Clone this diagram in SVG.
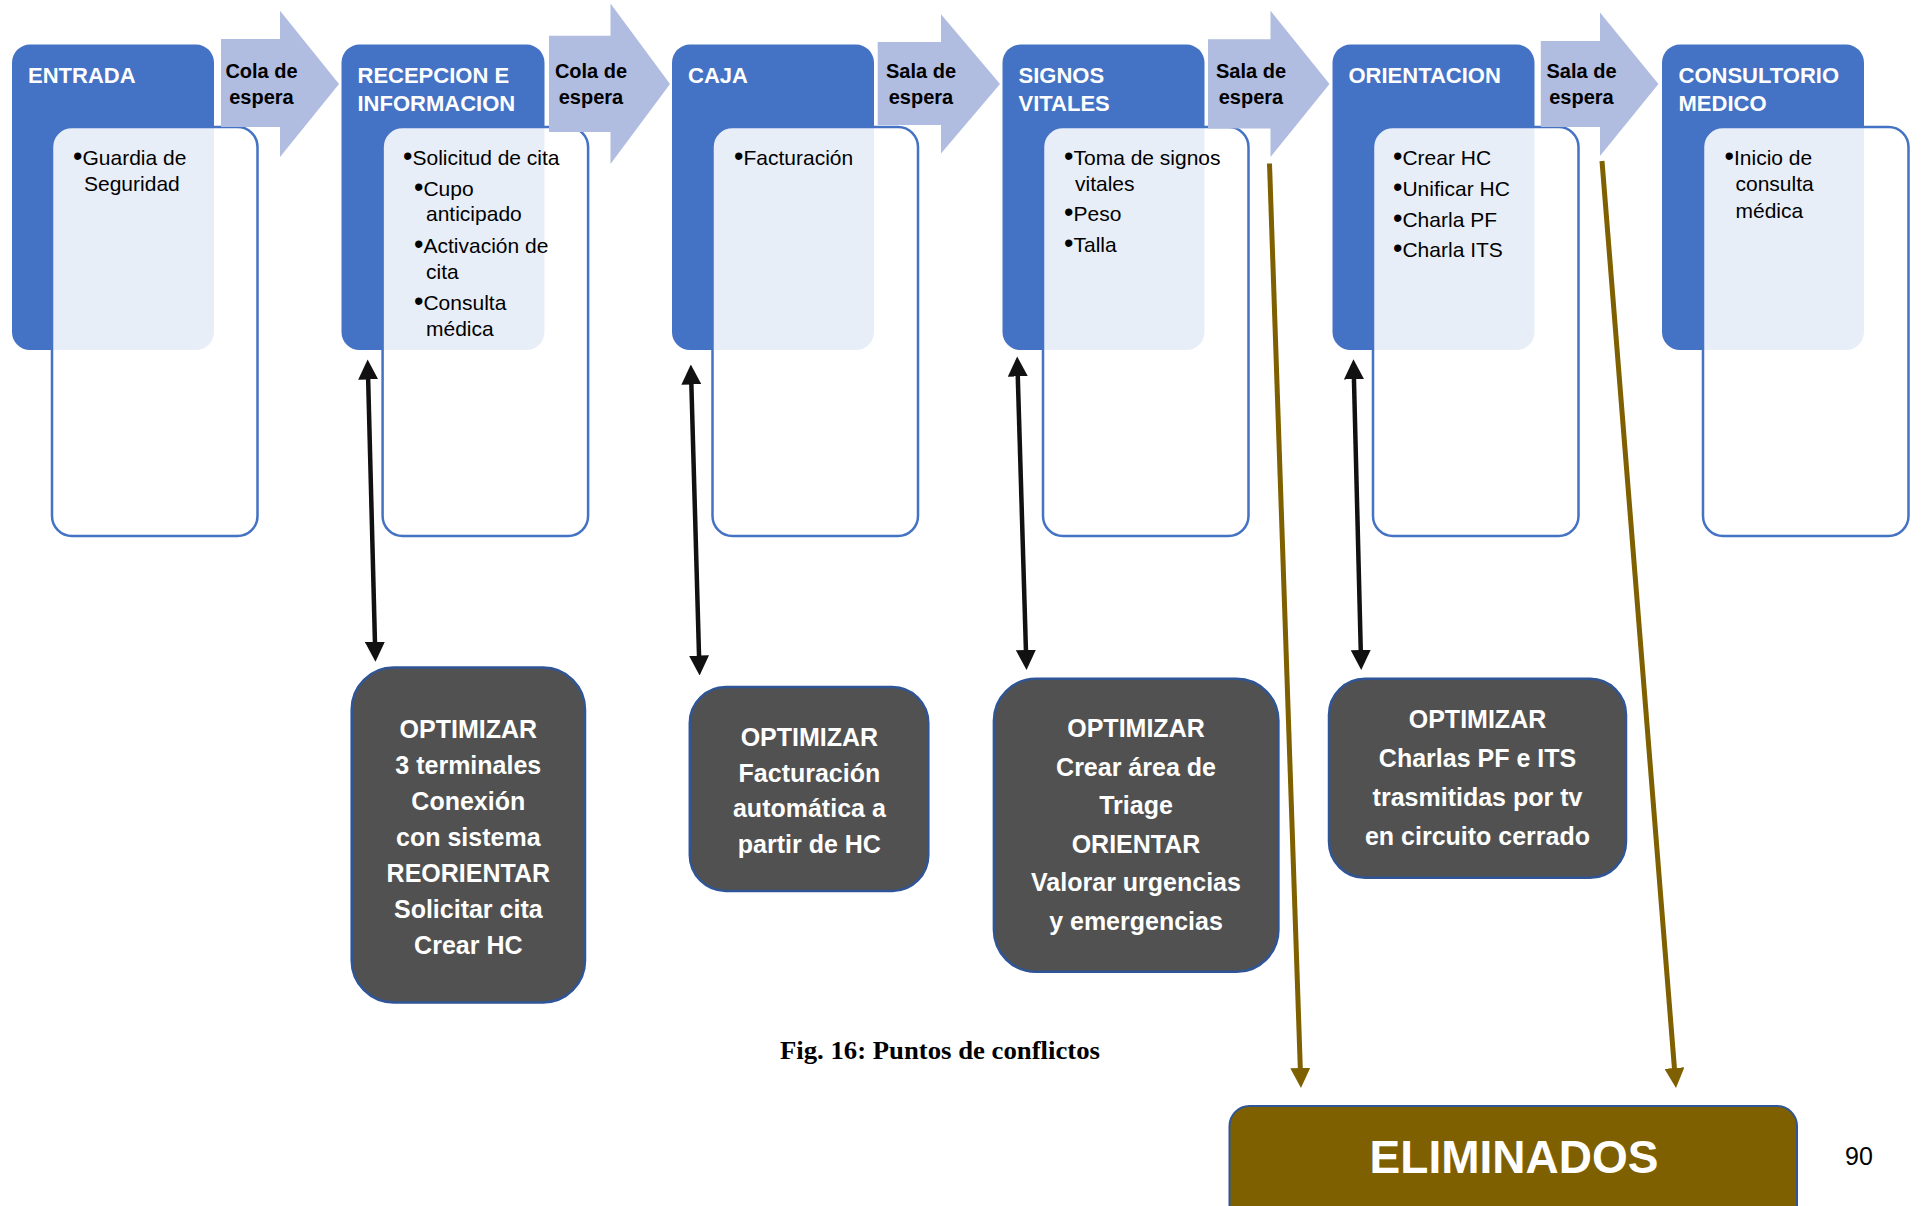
<svg xmlns="http://www.w3.org/2000/svg" width="1921" height="1206" viewBox="0 0 1921 1206">
<defs>
<style>
.blue{fill:#4472C4;}
.panel{fill:#FFFFFF;fill-opacity:0.88;stroke:#4472C4;stroke-width:2.5;}
.flow{fill:#B0BCE0;}
.title{font-family:"Liberation Sans",Arial,sans-serif;font-weight:bold;font-size:22px;fill:#FFFFFF;}
.item{font-family:"Liberation Sans",Arial,sans-serif;font-size:21px;fill:#000000;}
.b{font-size:27px;}
.wait{font-family:"Liberation Sans",Arial,sans-serif;font-weight:bold;font-size:20px;fill:#000000;text-anchor:middle;}
.opt{fill:#515151;stroke:#2F5597;stroke-width:2.5;}
.opttxt{font-family:"Liberation Sans",Arial,sans-serif;font-weight:bold;font-size:25px;fill:#FFFFFF;text-anchor:middle;}
.blk{stroke:#111111;stroke-width:4.5;fill:none;marker-start:url(#ah);marker-end:url(#ah);}
.gold{stroke:#7F6000;stroke-width:5;fill:none;marker-end:url(#ahg);}
</style>
<marker id="ah" viewBox="0 0 20 20" markerWidth="20" markerHeight="20" markerUnits="userSpaceOnUse" refX="6" refY="10" orient="auto-start-reverse">
<path d="M0,0 L20,10 L0,20 z" fill="#111111"/>
</marker>
<marker id="ahg" viewBox="0 0 20 20" markerWidth="20" markerHeight="20" markerUnits="userSpaceOnUse" refX="6" refY="10" orient="auto">
<path d="M0,0 L20,10 L0,20 z" fill="#7F6000"/>
</marker>
</defs>
<rect width="1921" height="1206" fill="#FFFFFF"/>

<g id="entrada">
<rect class="blue" x="12" y="44.6" width="202" height="305.4" rx="18"/>
<rect class="panel" x="52" y="127" width="205.5" height="409" rx="20"/>
<text class="title" x="28" y="83">ENTRADA</text>
<text class="item" x="73" y="165"><tspan class="b">•</tspan>Guardia de</text>
<text class="item" x="84" y="191">Seguridad</text>
</g>

<g id="recepcion">
<rect class="blue" x="341.5" y="44.6" width="203" height="305.4" rx="18"/>
<rect class="panel" x="382.6" y="127" width="205.5" height="409" rx="20"/>
<text class="title" x="357.5" y="83">RECEPCION E</text>
<text class="title" x="357.5" y="111">INFORMACION</text>
<text class="item" x="403" y="165"><tspan class="b">•</tspan>Solicitud de cita</text>
<text class="item" x="414" y="196"><tspan class="b">•</tspan>Cupo</text>
<text class="item" x="426" y="221">anticipado</text>
<text class="item" x="414" y="253"><tspan class="b">•</tspan>Activación de</text>
<text class="item" x="426" y="278.5">cita</text>
<text class="item" x="414" y="310"><tspan class="b">•</tspan>Consulta</text>
<text class="item" x="426" y="335.5">médica</text>
</g>

<g id="caja">
<rect class="blue" x="672" y="44.6" width="202" height="305.4" rx="18"/>
<rect class="panel" x="712.5" y="127" width="205.5" height="409" rx="20"/>
<text class="title" x="688" y="83">CAJA</text>
<text class="item" x="734" y="165"><tspan class="b">•</tspan>Facturación</text>
</g>

<g id="signos">
<rect class="blue" x="1002.5" y="44.6" width="202" height="305.4" rx="18"/>
<rect class="panel" x="1043" y="127" width="205.5" height="409" rx="20"/>
<text class="title" x="1018.5" y="83">SIGNOS</text>
<text class="title" x="1018.5" y="111">VITALES</text>
<text class="item" x="1064" y="165"><tspan class="b">•</tspan>Toma de signos</text>
<text class="item" x="1075" y="191">vitales</text>
<text class="item" x="1064" y="221"><tspan class="b">•</tspan>Peso</text>
<text class="item" x="1064" y="252"><tspan class="b">•</tspan>Talla</text>
</g>

<g id="orientacion">
<rect class="blue" x="1332.5" y="44.6" width="202" height="305.4" rx="18"/>
<rect class="panel" x="1373" y="127" width="205.5" height="409" rx="20"/>
<text class="title" x="1348.5" y="83">ORIENTACION</text>
<text class="item" x="1393" y="165"><tspan class="b">•</tspan>Crear HC</text>
<text class="item" x="1393" y="196"><tspan class="b">•</tspan>Unificar HC</text>
<text class="item" x="1393" y="226.5"><tspan class="b">•</tspan>Charla PF</text>
<text class="item" x="1393" y="256.5"><tspan class="b">•</tspan>Charla ITS</text>
</g>

<g id="consultorio">
<rect class="blue" x="1662" y="44.6" width="202" height="305.4" rx="18"/>
<rect class="panel" x="1703" y="127" width="205.5" height="409" rx="20"/>
<text class="title" x="1678.5" y="83">CONSULTORIO</text>
<text class="title" x="1678.5" y="111">MEDICO</text>
<text class="item" x="1724.5" y="165"><tspan class="b">•</tspan>Inicio de</text>
<text class="item" x="1735.5" y="191">consulta</text>
<text class="item" x="1735.5" y="217.5">médica</text>
</g>

<g id="espera1">
<polygon class="flow" points="221,39 280,39 280,10.7 339,84 280,157 280,127 221,127"/>
<text class="wait" x="261.5" y="78">Cola de</text>
<text class="wait" x="261.5" y="103.6">espera</text>
</g>
<g id="espera2">
<polygon class="flow" points="549,35.7 610.5,35.7 610.5,3.6 670,84 610.5,164 610.5,132 549,132"/>
<text class="wait" x="591" y="78">Cola de</text>
<text class="wait" x="591" y="103.6">espera</text>
</g>
<g id="espera3">
<polygon class="flow" points="877.7,42 941,42 941,14.3 1000,84 941,153.6 941,125 877.7,125"/>
<text class="wait" x="921" y="78">Sala de</text>
<text class="wait" x="921" y="103.6">espera</text>
</g>
<g id="espera4">
<polygon class="flow" points="1208,39.3 1270.5,39.3 1270.5,10.7 1329.5,84 1270.5,157 1270.5,128.6 1208,128.6"/>
<text class="wait" x="1251" y="78">Sala de</text>
<text class="wait" x="1251" y="103.6">espera</text>
</g>
<g id="espera5">
<polygon class="flow" points="1540.8,41 1600,41 1600,12.5 1658.4,84 1600,156 1600,127 1540.8,127"/>
<text class="wait" x="1581.5" y="78">Sala de</text>
<text class="wait" x="1581.5" y="103.6">espera</text>
</g>

<g id="opt-recepcion">
<rect class="opt" x="351.7" y="667.5" width="233.3" height="335" rx="42"/>
<text class="opttxt" x="468.3" y="738">OPTIMIZAR</text>
<text class="opttxt" x="468.3" y="774">3 terminales</text>
<text class="opttxt" x="468.3" y="810">Conexión</text>
<text class="opttxt" x="468.3" y="845.5">con sistema</text>
<text class="opttxt" x="468.3" y="882">REORIENTAR</text>
<text class="opttxt" x="468.3" y="918">Solicitar cita</text>
<text class="opttxt" x="468.3" y="954">Crear HC</text>
</g>

<g id="opt-caja">
<rect class="opt" x="689.8" y="687" width="238.5" height="204" rx="36"/>
<text class="opttxt" x="809.4" y="745.5">OPTIMIZAR</text>
<text class="opttxt" x="809.4" y="781.5">Facturación</text>
<text class="opttxt" x="809.4" y="817">automática a</text>
<text class="opttxt" x="809.4" y="853">partir de HC</text>
</g>

<g id="opt-signos">
<rect class="opt" x="993.9" y="678.8" width="284.5" height="293" rx="42"/>
<text class="opttxt" x="1136" y="737">OPTIMIZAR</text>
<text class="opttxt" x="1136" y="776">Crear área de</text>
<text class="opttxt" x="1136" y="814">Triage</text>
<text class="opttxt" x="1136" y="852.5">ORIENTAR</text>
<text class="opttxt" x="1136" y="891">Valorar urgencias</text>
<text class="opttxt" x="1136" y="930">y emergencias</text>
</g>

<g id="opt-orientacion">
<rect class="opt" x="1329" y="678.8" width="297" height="199" rx="36"/>
<text class="opttxt" x="1477.5" y="728">OPTIMIZAR</text>
<text class="opttxt" x="1477.5" y="767">Charlas PF e ITS</text>
<text class="opttxt" x="1477.5" y="805.5">trasmitidas por tv</text>
<text class="opttxt" x="1477.5" y="844.5">en circuito cerrado</text>
</g>

<g id="eliminados">
<rect x="1229.5" y="1106" width="567.5" height="140" rx="20" fill="#7F6000" stroke="#2F5597" stroke-width="2"/>
<text x="1514" y="1173" font-family="'Liberation Sans',Arial,sans-serif" font-weight="bold" font-size="46" fill="#FFFFFF" text-anchor="middle">ELIMINADOS</text>
</g>

<g id="connectors">
<line class="blk" x1="368" y1="373.5" x2="375.1" y2="647.8"/>
<line class="blk" x1="691.2" y1="378.5" x2="699.2" y2="661.5"/>
<line class="blk" x1="1017.6" y1="370.4" x2="1026.1" y2="656"/>
<line class="blk" x1="1353.8" y1="373.3" x2="1360.9" y2="656"/>
<line class="gold" x1="1269.5" y1="163.5" x2="1300.5" y2="1074"/>
<line class="gold" x1="1602" y1="161" x2="1674.9" y2="1074"/>
</g>

<g id="caption">
<text x="780" y="1059" font-family="'Liberation Serif','Times New Roman',serif" font-weight="bold" font-size="26" fill="#000000" textLength="320" lengthAdjust="spacingAndGlyphs">Fig. 16: Puntos de conflictos</text>
<text x="1845" y="1165" font-family="'Liberation Sans',Arial,sans-serif" font-size="25" fill="#000000">90</text>
</g>
</svg>
